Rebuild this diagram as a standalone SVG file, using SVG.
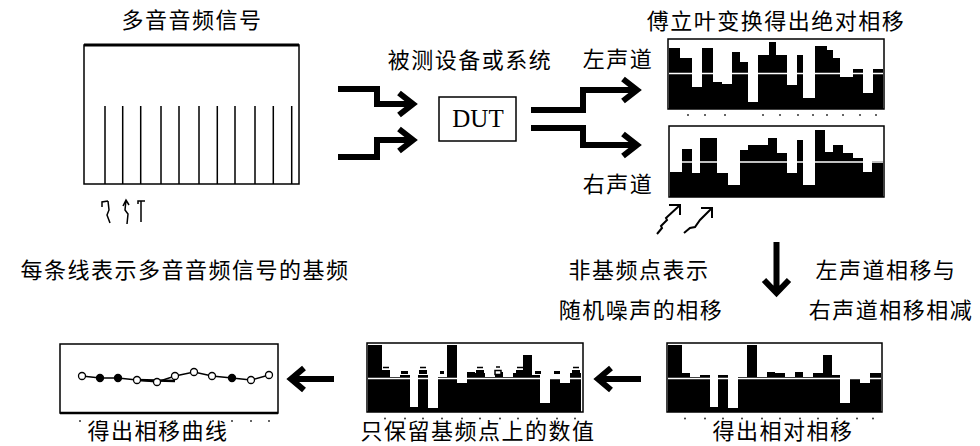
<svg xmlns="http://www.w3.org/2000/svg" width="980" height="446" viewBox="0 0 980 446">
<style>
.t{font-family:"Noto Sans CJK SC","Noto Sans",sans-serif;font-size:22px;letter-spacing:1.5px;text-anchor:middle;fill:#000}
.box{fill:#fff;stroke:#000;stroke-width:1.5}
.thick{fill:none;stroke:#000;stroke-width:6;stroke-linejoin:miter;stroke-miterlimit:10}
.thin{fill:none;stroke:#000;stroke-width:1.5}
.sm{fill:none;stroke:#000;stroke-width:2}
.bar{fill:#000}
.base{stroke:#fff;stroke-width:1.5}
.dot{fill:#333}
.mk{fill:#fff;stroke:#000;stroke-width:1.3}
.mkf{fill:#000;stroke:#000;stroke-width:1.3}
</style>
<rect width="980" height="446" fill="#fff"/>

<g id="input-signal">
  <text class="t" x="192" y="28">多音音频信号</text>
  <rect class="box" x="84" y="45" width="215" height="139"/>
  <line x1="84" y1="45" x2="299" y2="45" stroke="#000" stroke-width="3"/>
  <path class="thin" d="M105,106V184M122.7,106V184M140.7,106V184M161,106V184M179,106V184M199,106V184M217.3,106V184M235,106V184M255,106V184M273.3,106V184M291.7,106V184"/>
  <path class="thin" d="M102,207L102,202L108,201M108,201L109,210L107,215L110,223"/>
  <path class="thin" d="M123,206L126,200L129,205M126,200L125,210L128,214L127,224"/>
  <path class="thin" d="M138,204L138,201L145,201M141,201L141,222"/>
  <text class="t" x="185" y="278">每条线表示多音音频信号的基频</text>
</g>

<g id="dut">
  <text class="t" x="470" y="68">被测设备或系统</text>
  <rect class="box" x="439" y="97" width="77" height="44" stroke-width="2"/>
  <text x="478" y="127" font-family="Liberation Serif, serif" font-size="25" text-anchor="middle">DUT</text>
</g>

<g id="left-channel">
  <text class="t" x="618" y="67">左声道</text>
  <text class="t" x="776" y="29">傅立叶变换得出绝对相移</text>
  <rect class="box" x="668" y="39" width="216" height="70"/>
  <path class="bar" d="M669,109V48H680V58H692V87H702V48H713V82H722V84H732V52H740V62H748V102H758V55H769V42H776V55H787V85H797V55H803V98H815V46H827V50H833V58H840V77H853V69H863V93H873V69H883V109Z"/>
  <line class="base" x1="669" y1="73.5" x2="883" y2="73.5"/>
  <g class="dot"><circle cx="688" cy="115" r="1"/><circle cx="705" cy="115" r="1"/><circle cx="725" cy="115" r="1"/><circle cx="763" cy="115" r="1"/><circle cx="780" cy="115" r="1"/><circle cx="798" cy="115" r="1"/><circle cx="813" cy="115" r="1"/><circle cx="827" cy="115" r="1"/><circle cx="843" cy="115" r="1"/><circle cx="860" cy="115" r="1"/><circle cx="876" cy="115" r="1"/></g>
</g>

<g id="right-channel">
  <text class="t" x="618" y="192">右声道</text>
  <rect class="box" x="669" y="126" width="215" height="71"/>
  <path class="bar" d="M670,197V172H682V149H692V173H700V138H717V173H728V185H740V150H748V145H768V138H777V153H787V173H797V140H803V185H815V130H825V152H833V145H843V153H853V158H863V172H872V161H883V197Z"/>
  <line class="base" x1="670" y1="162" x2="883" y2="162"/>
  <path class="sm" d="M657,234L662,228L661,226L667,220L666,218L679,206M669,205H680V215"/>
  <path class="sm" d="M684,233L690,228L695,227L700,220L711,209M701,208H712V218"/>
</g>

<g id="noise-note">
  <text class="t" x="639" y="278">非基频点表示</text>
  <text class="t" x="641" y="318">随机噪声的相移</text>
</g>

<g id="subtract-note">
  <text class="t" x="886" y="278">左声道相移与</text>
  <text class="t" x="891" y="318">右声道相移相减</text>
</g>

<g id="relative">
  <rect class="box" x="667" y="343" width="215" height="69"/>
  <path class="bar" d="M668,412V345H682V373H690V377H700V375H710V407H718V375H728V408H738V377H747V345H757V377H767V372H775V373H785V377H795V372H803V377H813V373H823V355H832V375H840V403H850V378H860V383H870V373H881V412Z"/>
  <line class="base" x1="668" y1="378.5" x2="881" y2="378.5"/>
  <g class="dot"><circle cx="685" cy="418.5" r="1"/><circle cx="705" cy="418.5" r="1"/><circle cx="723" cy="418.5" r="1"/><circle cx="742" cy="418.5" r="1"/><circle cx="762" cy="418.5" r="1"/><circle cx="780" cy="418.5" r="1"/><circle cx="800" cy="418.5" r="1"/><circle cx="818" cy="418.5" r="1"/><circle cx="837" cy="418.5" r="1"/><circle cx="857" cy="418.5" r="1"/><circle cx="873" cy="418.5" r="1"/></g>
  <text class="t" x="783" y="439">得出相对相移</text>
</g>

<g id="fundamental-only">
  <rect class="box" x="367" y="343" width="216" height="69"/>
  <path class="bar" d="M368,412V345H382V373H390V377H400V375H410V407H418V375H428V408H438V377H447V345H457V383H467V372H475V373H485V377H495V372H503V377H513V373H523V355H532V375H540V403H550V378H560V383H570V373H581V412Z"/>
  <line class="base" x1="368" y1="378.5" x2="581" y2="378.5"/>
  <g fill="#000"><rect x="382" y="370" width="8" height="4"/><rect x="401" y="371" width="7" height="3"/><rect x="419" y="370" width="8" height="4"/><rect x="440" y="371" width="4" height="3"/><rect x="476" y="370" width="8" height="4"/><rect x="516" y="370" width="8" height="4"/><rect x="535" y="371" width="6" height="3"/><rect x="554" y="371" width="6" height="3"/><rect x="572" y="370" width="8" height="4"/></g>
  <g class="thin"><path d="M383,367.5H389M420,367.5H426M477,367.5H483M517,367.5H523M573,367.5H579M496,367H500"/><rect x="495" y="370.5" width="6" height="4" fill="#fff"/></g>
  <g class="dot"><circle cx="385" cy="418.5" r="1"/><circle cx="405" cy="418.5" r="1"/><circle cx="423" cy="418.5" r="1"/><circle cx="442" cy="418.5" r="1"/><circle cx="462" cy="418.5" r="1"/><circle cx="480" cy="418.5" r="1"/><circle cx="500" cy="418.5" r="1"/><circle cx="518" cy="418.5" r="1"/><circle cx="537" cy="418.5" r="1"/><circle cx="557" cy="418.5" r="1"/><circle cx="575" cy="418.5" r="1"/></g>
  <text class="t" x="478" y="439">只保留基频点上的数值</text>
</g>

<g id="phase-curve">
  <rect class="box" x="60" y="344" width="218" height="69"/>
  <line x1="60" y1="413" x2="278" y2="413" stroke="#000" stroke-width="2.5"/>
  <polyline class="thin" points="82,376 100,378 118,378 137,380 157,382 175,376 194,372 212,376 232,378 251,380 269,375"/>
  <line x1="137" y1="380" x2="175" y2="381" stroke="#000" stroke-width="2.5"/>
  <circle class="mk" cx="82" cy="376" r="3.5"/><circle class="mkf" cx="100" cy="378" r="3.5"/><circle class="mkf" cx="118" cy="378" r="3.5"/><circle class="mk" cx="137" cy="380" r="3.5"/><circle class="mk" cx="157" cy="382" r="3.5"/><circle class="mk" cx="175" cy="376" r="3.5"/><circle class="mk" cx="194" cy="372" r="3.5"/><circle class="mk" cx="212" cy="376" r="3.5"/><circle class="mkf" cx="232" cy="378" r="3.5"/><circle class="mk" cx="251" cy="380" r="3.5"/><circle class="mk" cx="269" cy="375" r="3.5"/>
  <g class="dot"><circle cx="80" cy="421" r="1"/><circle cx="100" cy="421" r="1"/><circle cx="118" cy="421" r="1"/><circle cx="137" cy="421" r="1"/><circle cx="156" cy="421" r="1"/><circle cx="175" cy="421" r="1"/><circle cx="194" cy="421" r="1"/><circle cx="213" cy="421" r="1"/><circle cx="232" cy="421" r="1"/><circle cx="251" cy="421" r="1"/><circle cx="269" cy="421" r="1"/></g>
  <text class="t" x="158" y="439">得出相移曲线</text>
</g>

<g id="connectors">
  <path class="thick" d="M338,89H377V104H412M399,93L413,104L399,115"/>
  <path class="thick" d="M338,157H377V140H412M399,129L413,140L399,151"/>
  <path class="thick" d="M531,110H583V90H636M623,79L637,90L623,101"/>
  <path class="thick" d="M531,128H583V145H636M623,134L637,145L623,156"/>
  <path class="thick" d="M776.5,242V292M764,280L776.5,293L789,280"/>
  <path class="thick" d="M641,379H600M611,368L598,379L611,390"/>
  <path class="thick" d="M334,379H293M304,368L291,379L304,390"/>
</g>
</svg>
